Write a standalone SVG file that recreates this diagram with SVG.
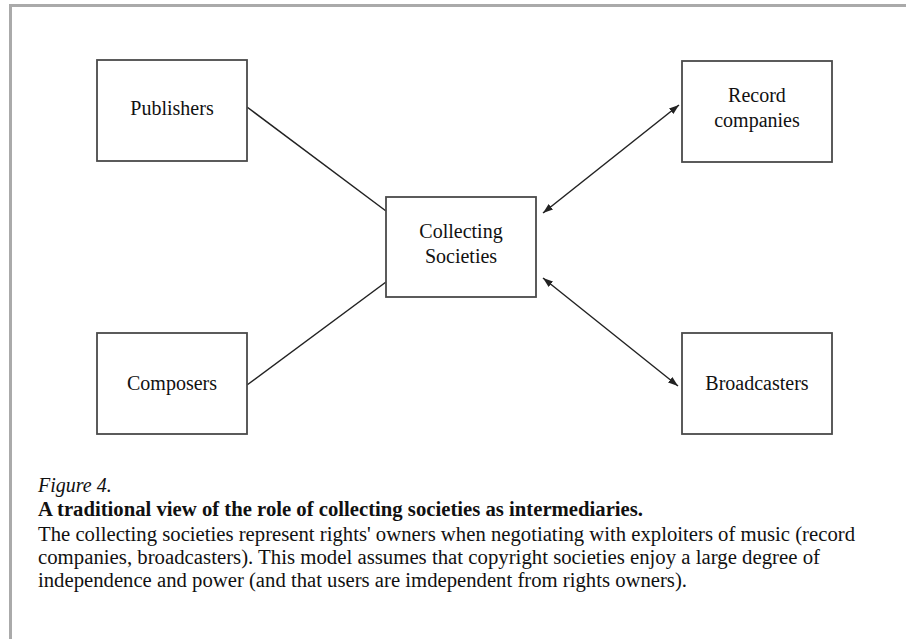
<svg xmlns="http://www.w3.org/2000/svg" width="906" height="639" viewBox="0 0 906 639">
<defs>
<style>
.box{fill:#fff;stroke:#4a4a4a;stroke-width:1.8}
.lbl{font-family:'Liberation Serif','DejaVu Serif',serif;font-size:20px;fill:#111;text-anchor:middle}
.cap{font-family:'Liberation Serif','DejaVu Serif',serif;font-size:20px;fill:#111}
.conn{stroke:#222;stroke-width:1.5;fill:none}
</style>
<marker id="ah" viewBox="0 0 10 10" refX="10" refY="5" markerWidth="10" markerHeight="10" markerUnits="userSpaceOnUse" orient="auto-start-reverse">
<path d="M0,1.5 L10,5 L0,8.5 Z" fill="#222"/>
</marker>
</defs>
<rect width="906" height="639" fill="#fff"/>
<g id="frame">
<path d="M10.5,639 V5.5 H906" fill="none" stroke="#aaa" stroke-width="3"/>
</g>
<g id="connectors">
<line class="conn" x1="247" y1="107" x2="386" y2="211"/>
<line class="conn" x1="247" y1="385" x2="386" y2="282"/>
<line class="conn" x1="543" y1="213" x2="679" y2="105" marker-start="url(#ah)" marker-end="url(#ah)"/>
<line class="conn" x1="543" y1="278" x2="678" y2="386" marker-start="url(#ah)" marker-end="url(#ah)"/>
</g>
<g id="publishers">
<rect class="box" x="97" y="60" width="150" height="101"/>
<text class="lbl" x="172" y="115" font-family="Liberation Serif, serif">Publishers</text>
</g>
<g id="record-companies">
<rect class="box" x="682" y="61" width="150" height="101"/>
<text class="lbl" x="757" y="102" font-family="Liberation Serif, serif">Record</text>
<text class="lbl" x="757" y="127" font-family="Liberation Serif, serif">companies</text>
</g>
<g id="collecting-societies">
<rect class="box" x="386" y="197" width="150" height="100"/>
<text class="lbl" x="461" y="238" font-family="Liberation Serif, serif">Collecting</text>
<text class="lbl" x="461" y="263" font-family="Liberation Serif, serif">Societies</text>
</g>
<g id="composers">
<rect class="box" x="97" y="333" width="150" height="101"/>
<text class="lbl" x="172" y="390" font-family="Liberation Serif, serif">Composers</text>
</g>
<g id="broadcasters">
<rect class="box" x="682" y="333" width="150" height="101"/>
<text class="lbl" x="757" y="390" font-family="Liberation Serif, serif">Broadcasters</text>
</g>
<g id="caption" font-family="Liberation Serif, serif">
<text class="cap" x="38" y="492" font-style="italic">Figure 4.</text>
<text class="cap" x="38" y="516" font-weight="bold" textLength="605" lengthAdjust="spacingAndGlyphs">A traditional view of the role of collecting societies as intermediaries.</text>
<text class="cap" x="38" y="541" textLength="817" lengthAdjust="spacingAndGlyphs">The collecting societies represent rights' owners when negotiating with exploiters of music (record</text>
<text class="cap" x="38" y="564" textLength="782" lengthAdjust="spacingAndGlyphs">companies, broadcasters). This model assumes that copyright societies enjoy a large degree of</text>
<text class="cap" x="38" y="587" textLength="649" lengthAdjust="spacingAndGlyphs">independence and power (and that users are imdependent from rights owners).</text>
</g>
</svg>
